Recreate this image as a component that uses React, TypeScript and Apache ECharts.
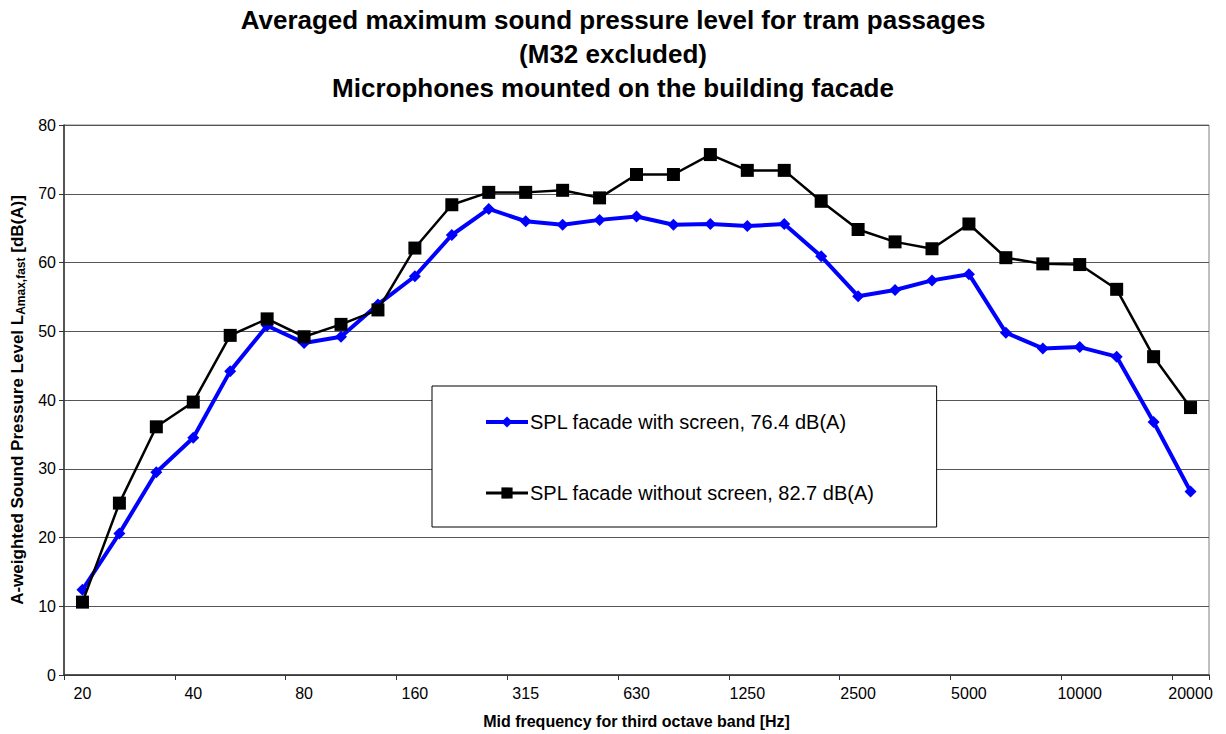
import React, { useEffect, useRef } from "react";
import * as echarts from "echarts";

const frequencies = ["20", "25", "31.5", "40", "50", "63", "80", "100", "125", "160", "200", "250", "315", "400", "500", "630", "800", "1000", "1250", "1600", "2000", "2500", "3150", "4000", "5000", "6300", "8000", "10000", "12500", "16000", "20000"];

const withScreen = [12.4, 20.6, 29.5, 34.5, 44.2, 50.8, 48.3, 49.2, 53.9, 58.0, 64.0, 67.8, 66.0, 65.5, 66.2, 66.7, 65.5, 65.6, 65.3, 65.6, 60.9, 55.1, 56.0, 57.4, 58.3, 49.8, 47.5, 47.7, 46.3, 36.8, 26.7];

const withoutScreen = [10.6, 25.0, 36.1, 39.7, 49.4, 51.8, 49.2, 51.0, 53.1, 62.1, 68.4, 70.2, 70.2, 70.5, 69.4, 72.8, 72.8, 75.7, 73.4, 73.4, 68.9, 64.8, 63.0, 62.0, 65.6, 60.7, 59.8, 59.7, 56.1, 46.3, 38.9];

const seriesNames = ["SPL facade with screen, 76.4 dB(A)", "SPL facade without screen, 82.7 dB(A)"];

const titleText = "Averaged maximum sound pressure level for tram passages\n(M32 excluded)\nMicrophones mounted on the building facade";

const FONT = "'Liberation Sans', Arial, sans-serif";

export default function App() {
  const ref = useRef<HTMLDivElement>(null);
  useEffect(() => {
    if (!ref.current) return;
    const chart = echarts.init(ref.current, null, { renderer: "svg" });
    chart.setOption({
      animation: false,
      backgroundColor: "#ffffff",
      title: {
        text: titleText,
        left: "center",
        top: 3,
        padding: 0,
        textStyle: { fontFamily: FONT, fontSize: 26, fontWeight: "bold", lineHeight: 34, color: "#000" },
      },
      grid: {
        left: 64,
        right: 17,
        top: 125,
        bottom: 58,
        show: true,
        borderColor: "#808080",
        borderWidth: 1,
      },
      legend: {
        orient: "vertical",
        left: 432,
        top: 386,
        data: [
          { name: seriesNames[0], lineStyle: { width: 4, color: "#0000ff" } },
          { name: seriesNames[1], lineStyle: { width: 3, color: "#000000" } },
        ],
        itemWidth: 42,
        itemHeight: 14,
        itemGap: 47,
        padding: [24, 62, 22, 52],
        backgroundColor: "#ffffff",
        borderColor: "#000000",
        borderWidth: 1,
        textStyle: { fontFamily: FONT, fontSize: 20, lineHeight: 24, color: "#000", padding: [0, 0, 0, -3] },
      },
      xAxis: {
        type: "category",
        data: frequencies,
        boundaryGap: true,
        name: "Mid frequency for third octave band [Hz]",
        nameLocation: "middle",
        nameGap: 38,
        nameTextStyle: { fontFamily: FONT, fontSize: 16, fontWeight: "bold", color: "#000" },
        axisLine: { lineStyle: { color: "#333", width: 1.5 } },
        axisTick: { show: true, interval: 2, length: 5, lineStyle: { color: "#333" } },
        axisLabel: { interval: 2, margin: 10, fontFamily: FONT, fontSize: 16, color: "#000" },
        splitLine: { show: false },
      },
      yAxis: {
        type: "value",
        min: 0,
        max: 80,
        interval: 10,
        name: "{m|A-weighted Sound Pressure Level L}{s|Amax,fast}{m| [dB(A)]}",
        nameLocation: "middle",
        nameGap: 35,
        nameTextStyle: {
          rich: {
            m: { fontFamily: FONT, fontSize: 17, fontWeight: "bold", color: "#000", lineHeight: 20 },
            s: { fontFamily: FONT, fontSize: 12, fontWeight: "bold", color: "#000", lineHeight: 10, verticalAlign: "bottom" },
          },
        },
        axisLine: { show: true, lineStyle: { color: "#333", width: 1.5 } },
        axisTick: { show: true, length: 5, lineStyle: { color: "#333" } },
        axisLabel: { margin: 8, fontFamily: FONT, fontSize: 16, color: "#000" },
        splitLine: { show: true, lineStyle: { color: "#555", width: 1 } },
      },
      series: [
        {
          name: seriesNames[0],
          type: "line",
          data: withScreen,
          symbol: "diamond",
          symbolSize: 12,
          itemStyle: { color: "#0000ff" },
          lineStyle: { color: "#0000ff", width: 4 },
          z: 2,
        },
        {
          name: seriesNames[1],
          type: "line",
          data: withoutScreen,
          symbol: "rect",
          symbolSize: 13,
          itemStyle: { color: "#000000" },
          lineStyle: { color: "#000000", width: 2.5 },
          z: 3,
        },
      ],
    });
    return () => chart.dispose();
  }, []);
  return (
    <div
      ref={ref}
      style={{ position: "fixed", left: 0, top: 0, width: 1226, height: 734, background: "#fff" }}
    />
  );
}
